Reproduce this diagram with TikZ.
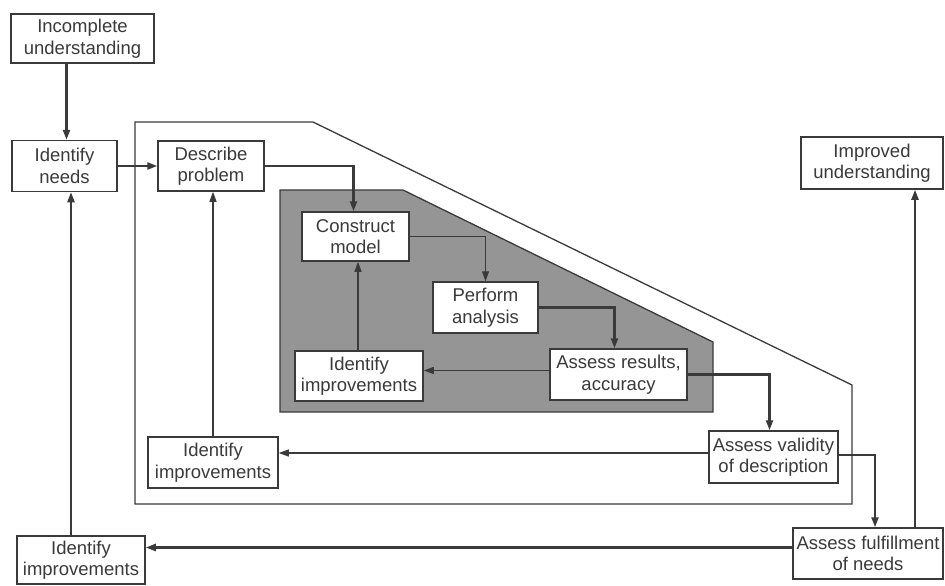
\documentclass[tikz,border=0pt]{standalone}
\usepackage{fontspec}
\setmainfont{Liberation Sans}
\usetikzlibrary{arrows.meta,calc}
\definecolor{ink}{HTML}{3A3A3A}
\definecolor{shade}{HTML}{959595}
\begin{document}
\begin{tikzpicture}[x=1pt,y=-1pt,
  box/.style={draw=ink,line width=1.5pt,fill=white,inner sep=0pt,align=center,
    font=\fontsize{18.5}{21.5}\selectfont,text=ink},
  thick arr/.style={draw=ink,line width=2.2pt,-{Triangle[length=10pt,width=7pt]}},
  thin arr/.style={draw=ink,line width=1.2pt,-{Triangle[length=10pt,width=7pt]}},
  frame/.style={draw=ink,line width=1.3pt}]
\useasboundingbox (0,0) rectangle (945,586);
% regions
\draw[frame] (135,122) -- (313,122) -- (852,385) -- (852,504) -- (135,504) -- cycle;
\draw[frame,fill=shade] (280,190) -- (403,190) -- (713,342) -- (713,412) -- (280,412) -- cycle;
% nodes
\node[box,minimum width=143pt,minimum height=49pt] (inc) at (82.5,38.5) {Incomplete\\understanding};
\node[box,minimum width=105pt,minimum height=51pt] (needs) at (64.5,166) {Identify\\needs};
\node[box,minimum width=106pt,minimum height=50pt] (desc) at (211,166) {Describe\\problem};
\node[box,minimum width=107pt,minimum height=49pt] (cons) at (355.5,236.5) {Construct\\model};
\node[box,minimum width=105pt,minimum height=51pt] (perf) at (485.5,307.5) {Perform\\analysis};
\node[box,minimum width=137pt,minimum height=51pt] (assr) at (618.5,374.5) {Assess results,\\accuracy};
\node[box,minimum width=128pt,minimum height=50pt] (iimp) at (359,376) {Identify\\improvements};
\node[box,minimum width=129pt,minimum height=52pt] (val) at (773.5,457) {Assess validity\\of description};
\node[box,minimum width=130pt,minimum height=51pt] (mimp) at (213,462.5) {Identify\\improvements};
\node[box,minimum width=150pt,minimum height=51pt] (ful) at (868,553.5) {Assess fulfillment\\of needs};
\node[box,minimum width=142pt,minimum height=52pt] (impr) at (872,163) {Improved\\understanding};
\node[box,minimum width=128pt,minimum height=48pt] (bimp) at (81,560) {Identify\\improvements};
% connectors
\draw[thick arr] ([xshift=2]inc.south -| needs.north) -- ([xshift=2]needs.north);
\draw[thick arr] (needs.east) -- (desc.west);
\draw[thick arr] (desc.east) -| ([xshift=-2]cons.north);
\draw[thin arr] (cons.east) -| (perf.north);
\draw[thick arr] (perf.east) -| ([xshift=-4]assr.north);
\draw[thin arr] ([yshift=4]assr.west) -- ([yshift=4]assr.west -| iimp.east);
\draw[thin arr] ([xshift=-1]iimp.north) -- ([xshift=-1]iimp.north |- cons.south);
\draw[thick arr] (assr.east) -| ([xshift=-4]val.north);
\draw[thin arr] ([yshift=4]val.west) -- ([yshift=4]val.west -| mimp.east);
\draw[thin arr] (mimp.north) -- (mimp.north |- desc.south);
\draw[thick arr] ([yshift=2]val.east) -| ([xshift=7]ful.north);
\draw[thick arr] ([xshift=47]ful.north) -- ([xshift=47]ful.north |- impr.south);
\draw[thick arr] ([yshift=6]ful.west) -- ([yshift=6]ful.west -| bimp.east);
\draw[thick arr] ([xshift=-10]bimp.north) -- ([xshift=-10]bimp.north |- needs.south);
\end{tikzpicture}
\end{document}
